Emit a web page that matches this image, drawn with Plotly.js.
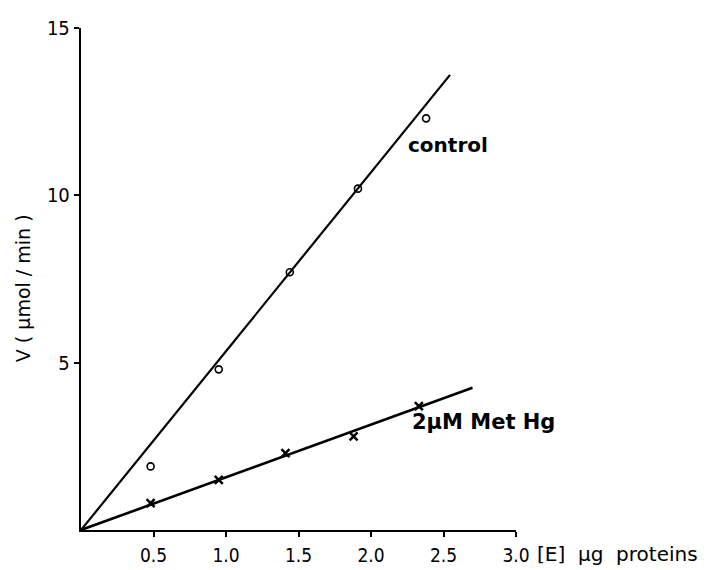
<!DOCTYPE html>
<html>
<head>
<meta charset="utf-8">
<script src="https://cdn.plot.ly/plotly-3.0.1.min.js"></script>
<style>html,body{margin:0;padding:0;background:#fff;}#chart{width:725px;height:570px;}</style>
</head>
<body>
<div id="chart"></div>
<script>
// Data
const controlX = [0.48, 0.95, 1.44, 1.91, 2.38];
const controlY = [1.9, 4.8, 7.7, 10.2, 12.3];
const hgX = [0.48, 0.95, 1.41, 1.88, 2.33];
const hgY = [0.8, 1.5, 2.3, 2.8, 3.7];
// Fitted lines (endpoints)
const controlLineX = [0, 2.545];
const controlLineY = [0, 13.6];
const hgLineX = [0, 2.70];
const hgLineY = [0, 4.25];
// Ticks
const xTickVals = [0.5, 1.0, 1.5, 2.0, 2.5, 3.0];
const xTickText = ["0.5", "1.0", "1.5", "2.0", "2.5", "3.0"];
const yTickVals = [5, 10, 15];
const yTickText = ["5", "10", "15"];

const tickFont = "DejaVu Sans Condensed, DejaVu Sans, sans-serif";
const font = "DejaVu Sans, sans-serif";

const traces = [
  {x: controlLineX, y: controlLineY, mode: 'lines', line: {color: '#000', width: 2.2}, hoverinfo: 'skip'},
  {x: hgLineX, y: hgLineY, mode: 'lines', line: {color: '#000', width: 2.6}, hoverinfo: 'skip'},
  {x: controlX, y: controlY, mode: 'markers',
   marker: {symbol: 'circle-open', size: 7, color: '#000', line: {width: 1.6, color: '#000'}}},
  {x: hgX, y: hgY, mode: 'markers',
   marker: {symbol: 'x-thin', size: 8, color: '#000', line: {width: 2.5, color: '#000'}}}
];

const layout = {
  width: 725, height: 570,
  margin: {l: 81, r: 209, t: 28, b: 40},
  paper_bgcolor: '#fff', plot_bgcolor: '#fff',
  showlegend: false,
  font: {family: font, color: '#000', size: 18},
  xaxis: {
    range: [0, 3.0], showgrid: false, zeroline: false,
    showline: true, linecolor: '#000', linewidth: 2.2,
    ticks: 'outside', ticklen: 5, tickwidth: 2, tickcolor: '#000',
    tickmode: 'array', tickvals: xTickVals, ticktext: xTickText,
    ticklabelstandoff: 2,
    tickfont: {family: tickFont, size: 19, color: '#000'}
  },
  yaxis: {
    range: [0, 15], showgrid: false, zeroline: false,
    showline: true, linecolor: '#000', linewidth: 2.2,
    ticks: 'outside', ticklen: 5, tickwidth: 2, tickcolor: '#000',
    tickmode: 'array', tickvals: yTickVals, ticktext: yTickText,
    tickfont: {family: tickFont, size: 20, color: '#000'}
  },
  annotations: [
    {x: 2.24, y: 11.5, xref: 'x', yref: 'y', text: '<b>control</b>', showarrow: false,
     xanchor: 'left', yanchor: 'middle', font: {family: font, size: 20, color: '#000'}},
    {x: 2.27, y: 3.23, xref: 'x', yref: 'y', text: '<b>2μM Met Hg</b>', showarrow: false,
     xanchor: 'left', yanchor: 'middle', font: {family: font, size: 21, color: '#000'}},
    {x: 1.044, y: -0.048, xref: 'paper', yref: 'paper', text: '[E]  μg  proteins', showarrow: false,
     xanchor: 'left', yanchor: 'middle', font: {family: font, size: 20, color: '#000'}},
    {x: -0.133, y: 0.482, xref: 'paper', yref: 'paper', text: 'V ( μmol / min )', showarrow: false,
     textangle: -90, xanchor: 'center', yanchor: 'middle', font: {family: font, size: 19, color: '#000'}}
  ]
};

Plotly.newPlot('chart', traces, layout, {displayModeBar: false, staticPlot: true});
</script>
</body>
</html>
